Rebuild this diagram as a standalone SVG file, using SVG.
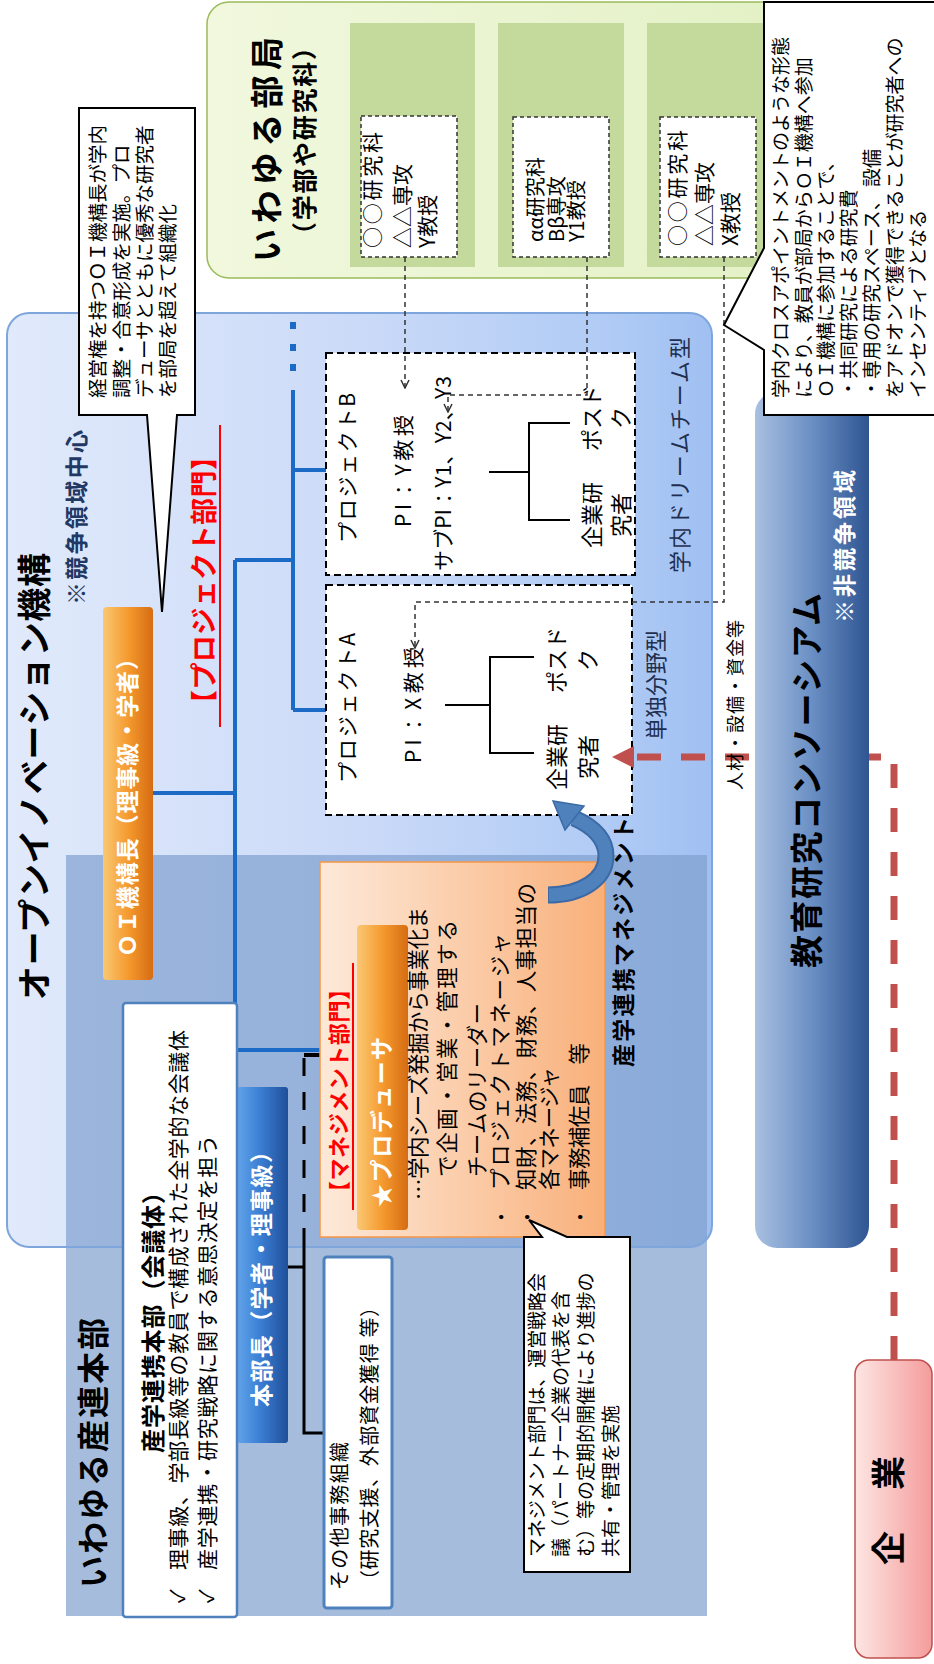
<svg xmlns="http://www.w3.org/2000/svg" width="934" height="1664" viewBox="0 0 934 1664">
<style>
text{font-family:'Noto Sans CJK JP','Noto Sans',sans-serif;fill:#000}
.b{font-weight:bold}
.w{fill:#fff}
.red{fill:#ff0000}
.navy{fill:#1f3864}
.dk{fill:#1f2f50}
.blu{stroke:#1b6bc6;stroke-width:4;fill:none}
.pbox{fill:#fff;stroke:#000;stroke-width:2;stroke-dasharray:7 4}
.gbox{fill:#fff;stroke:#333;stroke-width:1.5;stroke-dasharray:4 3}
.gcol{fill:#c4d99c}
.gd{fill:none;stroke:#333;stroke-width:1.5;stroke-dasharray:5 4}
.tree{fill:none;stroke:#000;stroke-width:2}
.call{fill:#fff;stroke:#000;stroke-width:2}
</style>
<defs>
<linearGradient id="gGreen" x1="0" y1="0" x2="1" y2="0"><stop offset="0" stop-color="#f1f8de"/><stop offset="1" stop-color="#e0efbf"/></linearGradient>
<linearGradient id="gOI" x1="0" y1="0" x2="1" y2="0"><stop offset="0" stop-color="#e1eafb"/><stop offset="0.5" stop-color="#cbdaf8"/><stop offset="0.85" stop-color="#b0cbf5"/><stop offset="1" stop-color="#a0c0f2"/></linearGradient>
<linearGradient id="gOrange" x1="0" y1="0" x2="1" y2="0"><stop offset="0" stop-color="#fac873"/><stop offset="0.5" stop-color="#f59a2f"/><stop offset="1" stop-color="#d66c12"/></linearGradient>
<linearGradient id="gBlueBar" x1="0" y1="0" x2="1" y2="0"><stop offset="0" stop-color="#62a4ea"/><stop offset="0.45" stop-color="#3b7fd4"/><stop offset="1" stop-color="#1f4f99"/></linearGradient>
<linearGradient id="gCons" x1="0" y1="0" x2="1" y2="0"><stop offset="0" stop-color="#a9c0e0"/><stop offset="0.5" stop-color="#6a8fc4"/><stop offset="1" stop-color="#2f5592"/></linearGradient>
<linearGradient id="gMgmt" x1="0" y1="0" x2="1" y2="0"><stop offset="0" stop-color="#fde9d9"/><stop offset="1" stop-color="#f9b07a"/></linearGradient>
<linearGradient id="gKigyo" x1="0" y1="0" x2="1" y2="0"><stop offset="0" stop-color="#fde6e3"/><stop offset="1" stop-color="#f49c9c"/></linearGradient>
<marker id="oa" viewBox="0 0 10 10" refX="9" refY="5" markerWidth="10" markerHeight="10" markerUnits="userSpaceOnUse" orient="auto"><path d="M1,1 L9,5 L1,9" fill="none" stroke="#333" stroke-width="1.5"/></marker>
</defs>

<g id="bukyoku">
<rect x="207" y="2" width="740" height="276" rx="22" fill="url(#gGreen)" stroke="#9bbb59" stroke-width="1.5"/>
<rect class="gcol" x="350" y="23" width="125" height="244"/>
<rect class="gcol" x="498" y="23" width="126" height="244"/>
<rect class="gcol" x="647" y="23" width="125" height="244"/>
<text class="b" font-size="33" transform="translate(279,262) rotate(-90)" textLength="225" lengthAdjust="spacing">いわゆる部局</text>
<text class="b" font-size="25" transform="translate(314,247) rotate(-90)" textLength="212" lengthAdjust="spacing">（学部や研究科）</text>
</g>
<g id="dept1">
<rect class="gbox" x="361" y="116" width="96" height="141"/>
<text font-size="21" transform="translate(380,248) rotate(-90)" textLength="116" lengthAdjust="spacing">○○研究科</text>
<text font-size="21" transform="translate(410,248) rotate(-90)">△△専攻</text>
<text font-size="21" transform="translate(435,248) rotate(-90)">Y教授</text>
</g>
<g id="dept2">
<rect class="gbox" x="513" y="117" width="96" height="140"/>
<text font-size="20" transform="translate(543,242) rotate(-90)">αα研究科</text>
<text font-size="20" transform="translate(564,242) rotate(-90)">Bβ専攻</text>
<text font-size="20" transform="translate(584,242) rotate(-90)">Y1教授</text>
</g>
<g id="dept3">
<rect class="gbox" x="660" y="117" width="96" height="140"/>
<text font-size="21" transform="translate(685,246) rotate(-90)" textLength="116" lengthAdjust="spacing">○○研究科</text>
<text font-size="21" transform="translate(712,246) rotate(-90)">△△専攻</text>
<text font-size="21" transform="translate(738,246) rotate(-90)">X教授</text>
</g>

<g id="oi-kikou">
<rect x="7" y="313" width="705" height="934" rx="22" fill="url(#gOI)"/>
<rect id="sanren-region" x="66" y="855" width="641" height="761" fill="#7f9fcf" opacity="0.7"/>
<rect x="7" y="313" width="705" height="934" rx="22" fill="none" stroke="#7fa6dc" stroke-width="2"/>
<text class="b" font-size="34" transform="translate(47,1000) rotate(-90)" textLength="447" lengthAdjust="spacing">オープンイノベーション機構</text>
<text class="b navy" font-size="23" transform="translate(85,605) rotate(-90)" textLength="175" lengthAdjust="spacing">※競争領域中心</text>
<text class="b red" font-size="27" transform="translate(214,717) rotate(-90)" textLength="274" lengthAdjust="spacing">【プロジェクト部門】</text>
<line x1="220" y1="425" x2="220" y2="727" stroke="#ff0000" stroke-width="2"/>
<text class="dk" font-size="22" transform="translate(688,573) rotate(-90)" textLength="236" lengthAdjust="spacing">学内ドリームチーム型</text>
<text class="dk" font-size="22" transform="translate(664,740) rotate(-90)" textLength="110" lengthAdjust="spacing">単独分野型</text>
<text class="b" font-size="23" transform="translate(632,1067) rotate(-90)" textLength="250" lengthAdjust="spacing">産学連携マネジメント</text>
<text class="b" font-size="32" transform="translate(105,1588) rotate(-90)" textLength="270" lengthAdjust="spacing">いわゆる産連本部</text>
</g>

<g id="connectors">
<path class="blu" d="M153,793 H235"/>
<path class="blu" d="M235,560 V1050 H320"/>
<path class="blu" d="M235,560 H293"/>
<path class="blu" d="M293,390 V710"/>
<path class="blu" d="M293,470 H326"/>
<path class="blu" d="M293,710 H326"/>
<rect x="290" y="322" width="6" height="7" fill="#1b6bc6"/>
<rect x="290" y="344" width="6" height="7" fill="#1b6bc6"/>
<rect x="290" y="364" width="6" height="7" fill="#1b6bc6"/>
<path d="M320,1055 H304" stroke="#000" stroke-width="4" fill="none"/>
<path d="M304,1058 V1245" stroke="#000" stroke-width="3" stroke-dasharray="18 16" fill="none"/>
<path d="M304,1245 V1433 H325" stroke="#000" stroke-width="3" fill="none"/>
<path d="M288,1267 H304" stroke="#000" stroke-width="3" fill="none"/>
</g>

<g id="oi-head">
<rect x="103" y="607" width="50" height="373" rx="4" fill="url(#gOrange)"/>
<text class="b w" font-size="23" transform="translate(136,957) rotate(-90)" textLength="310" lengthAdjust="spacing">ＯＩ機構長（理事級・学者）</text>
</g>

<g id="project-b">
<rect class="pbox" x="326" y="353" width="309" height="222"/>
<text font-size="21" transform="translate(355,543) rotate(-90)" textLength="150" lengthAdjust="spacing">プロジェクトB</text>
<text font-size="21" transform="translate(411,527) rotate(-90)" textLength="112" lengthAdjust="spacing">PI：Y教授</text>
<text font-size="21" transform="translate(451,571) rotate(-90)" textLength="195" lengthAdjust="spacing">サブPI：Y1、Y2、Y3</text>
<path class="tree" d="M489,472 H529 M570,423 H529 V520 H570"/>
<text font-size="22" text-anchor="middle" transform="translate(600,418) rotate(-90)">ポスド</text>
<text font-size="22" text-anchor="middle" transform="translate(629,418) rotate(-90)">ク</text>
<text font-size="22" text-anchor="middle" transform="translate(600,515) rotate(-90)">企業研</text>
<text font-size="22" text-anchor="middle" transform="translate(629,515) rotate(-90)">究者</text>
</g>

<g id="project-a">
<rect class="pbox" x="326" y="585" width="306" height="230"/>
<text font-size="21" transform="translate(355,783) rotate(-90)" textLength="150" lengthAdjust="spacing">プロジェクトA</text>
<text font-size="21" transform="translate(421,763) rotate(-90)" textLength="116" lengthAdjust="spacing">PI：X教授</text>
<path class="tree" d="M445,705 H490 M534,657 H490 V753 H534"/>
<text font-size="22" text-anchor="middle" transform="translate(565,660) rotate(-90)">ポスド</text>
<text font-size="22" text-anchor="middle" transform="translate(596,660) rotate(-90)">ク</text>
<text font-size="22" text-anchor="middle" transform="translate(565,757) rotate(-90)">企業研</text>
<text font-size="22" text-anchor="middle" transform="translate(596,757) rotate(-90)">究者</text>
</g>

<g id="dash-links">
<path class="gd" d="M724,257 V602 H415 V648" marker-end="url(#oa)"/>
<path class="gd" d="M405,257 V388" marker-end="url(#oa)"/>
<path class="gd" d="M587,257 V395 H448 V412" marker-end="url(#oa)"/>
</g>

<g id="resource-arrow">
<path d="M894,1360 V757 H634" fill="none" stroke="#c0504d" stroke-width="7" stroke-dasharray="24 20"/>
<polygon points="612,757 634,746 634,768" fill="#c0504d"/>
</g>

<g id="consortium">
<rect x="755" y="392" width="114" height="856" rx="22" fill="url(#gCons)"/>
<text class="b" font-size="33" transform="translate(819,968) rotate(-90)" textLength="375" lengthAdjust="spacing">教育研究コンソーシアム</text>
<text class="b w" font-size="23" transform="translate(853,623) rotate(-90)" textLength="153" lengthAdjust="spacing">※非競争領域</text>
</g>
<text font-size="18" transform="translate(742,790) rotate(-90)" textLength="170" lengthAdjust="spacing">人材・設備・資金等</text>

<g id="management">
<rect x="320" y="862" width="285" height="375" fill="url(#gMgmt)" stroke="#f79646" stroke-width="1.5"/>
<text class="b red" font-size="22" transform="translate(347,1203) rotate(-90)" textLength="225" lengthAdjust="spacing">【マネジメント部門】</text>
<line x1="353" y1="963" x2="353" y2="1210" stroke="#ff0000" stroke-width="2"/>
<rect x="357" y="925" width="51" height="305" rx="4" fill="url(#gOrange)"/>
<text class="b w" font-size="23" transform="translate(390,1207) rotate(-90)" textLength="170" lengthAdjust="spacing">★プロデューサ</text>
<text font-size="21.5" transform="translate(426,1200) rotate(-90)" textLength="293" lengthAdjust="spacing">…学内シーズ発掘から事業化ま</text>
<text font-size="21.5" transform="translate(455,1177) rotate(-90)" textLength="257" lengthAdjust="spacing">で企画・営業・管理する</text>
<text font-size="21.5" transform="translate(485,1177) rotate(-90)" textLength="174" lengthAdjust="spacing">チームのリーダー</text>
<text font-size="21.5" transform="translate(508,1190) rotate(-90)" textLength="257" lengthAdjust="spacing">プロジェクトマネージャ</text>
<text font-size="21.5" transform="translate(534,1190) rotate(-90)" textLength="307" lengthAdjust="spacing">知財、法務、財務、人事担当の</text>
<text font-size="21.5" transform="translate(557,1190) rotate(-90)" textLength="123" lengthAdjust="spacing">各マネージャ</text>
<text font-size="21.5" transform="translate(587,1190) rotate(-90)" textLength="147" lengthAdjust="spacing">事務補佐員　等</text>
<text font-size="16" text-anchor="middle" transform="translate(506,1217) rotate(-90)">•</text>
<text font-size="16" text-anchor="middle" transform="translate(532,1217) rotate(-90)">•</text>
<text font-size="16" text-anchor="middle" transform="translate(585,1217) rotate(-90)">•</text>
</g>

<g id="curved-arrow">
<path d="M548,895 C580,895 606,880 606,856 C606,838 592,826 574,818" fill="none" stroke="#3b6aa6" stroke-width="17"/>
<path d="M549,895 C580,895 606,880 606,856 C606,838 592,826 574,818" fill="none" stroke="#4f81bd" stroke-width="13"/>
<polygon points="553,801 584,806 565,830" fill="#4f81bd" stroke="#3b6aa6" stroke-width="1.5"/>
</g>

<g id="honbucho">
<rect x="237" y="1087" width="51" height="356" rx="3" fill="url(#gBlueBar)"/>
<text class="b w" font-size="23" transform="translate(270,1407) rotate(-90)" textLength="267" lengthAdjust="spacing">本部長（学者・理事級）</text>
</g>

<g id="sangaku-honbu">
<rect x="123" y="1003" width="114" height="614" rx="3" fill="#fff" stroke="#4f81bd" stroke-width="2.5"/>
<text class="b" font-size="24" transform="translate(162,1453) rotate(-90)" textLength="273" lengthAdjust="spacing">産学連携本部（会議体）</text>
<text font-size="20" transform="translate(185,1603) rotate(-90)">✓</text>
<text font-size="21" transform="translate(186,1570) rotate(-90)" textLength="540" lengthAdjust="spacing">理事級、学部長級等の教員で構成された全学的な会議体</text>
<text font-size="20" transform="translate(214,1603) rotate(-90)">✓</text>
<text font-size="21" transform="translate(215,1570) rotate(-90)" textLength="435" lengthAdjust="spacing">産学連携・研究戦略に関する意思決定を担う</text>
</g>

<g id="sonota">
<rect x="324" y="1257" width="68" height="351" rx="3" fill="#fff" stroke="#4f81bd" stroke-width="3"/>
<text font-size="20" transform="translate(347,1590) rotate(-90)" textLength="148" lengthAdjust="spacing">その他事務組織</text>
<text font-size="20" transform="translate(377,1590) rotate(-90)" textLength="293" lengthAdjust="spacing">（研究支援、外部資金獲得 等）</text>
</g>

<g id="kigyo">
<rect x="855" y="1360" width="77" height="298" rx="14" fill="url(#gKigyo)" stroke="#c0504d" stroke-width="1.5"/>
<text class="b" font-size="34" transform="translate(901,1565) rotate(-90)" textLength="109" lengthAdjust="spacing">企　業</text>
</g>

<g id="callout-oi">
<path class="call" d="M79,108 H195 V415 H177 L162,612 L147,415 H79 Z"/>
<text font-size="19.5" transform="translate(105,398) rotate(-90)">経営権を持つＯＩ機構長が学内</text>
<text font-size="19.5" transform="translate(129,398) rotate(-90)">調整・合意形成を実施。プロ</text>
<text font-size="19.5" transform="translate(152,398) rotate(-90)">デューサとともに優秀な研究者</text>
<text font-size="19.5" transform="translate(175,398) rotate(-90)">を部局を超えて組織化</text>
</g>

<g id="callout-cross">
<path class="call" d="M764,2 H945 V415 H764 V350 L724,325 L764,248 Z"/>
<text font-size="19" transform="translate(788,398) rotate(-90)">学内クロスアポイントメントのような形態</text>
<text font-size="19" transform="translate(811,398) rotate(-90)">により、教員が部局からＯＩ機構へ参加</text>
<text font-size="19" transform="translate(833,398) rotate(-90)">ＯＩ機構に参加することで、</text>
<text font-size="19" transform="translate(856,398) rotate(-90)">・共同研究による研究費</text>
<text font-size="19" transform="translate(879,398) rotate(-90)">・専用の研究スペース、 設備</text>
<text font-size="19" transform="translate(902,398) rotate(-90)">をアドオンで獲得できることが研究者への</text>
<text font-size="19" transform="translate(925,398) rotate(-90)">インセンティブとなる</text>
</g>

<g id="callout-mgmt">
<path class="call" d="M524,1237 H542 L529,1220 L567,1237 H630 V1572 H524 Z"/>
<text font-size="19" transform="translate(544,1557) rotate(-90)" textLength="284" lengthAdjust="spacing">マネジメント部門は、運営戦略会</text>
<text font-size="19" transform="translate(568,1557) rotate(-90)">議（パートナー企業の代表を含</text>
<text font-size="19" transform="translate(593,1557) rotate(-90)">む）等の定期的開催により進捗の</text>
<text font-size="19" transform="translate(618,1557) rotate(-90)">共有・管理を実施</text>
</g>
</svg>
